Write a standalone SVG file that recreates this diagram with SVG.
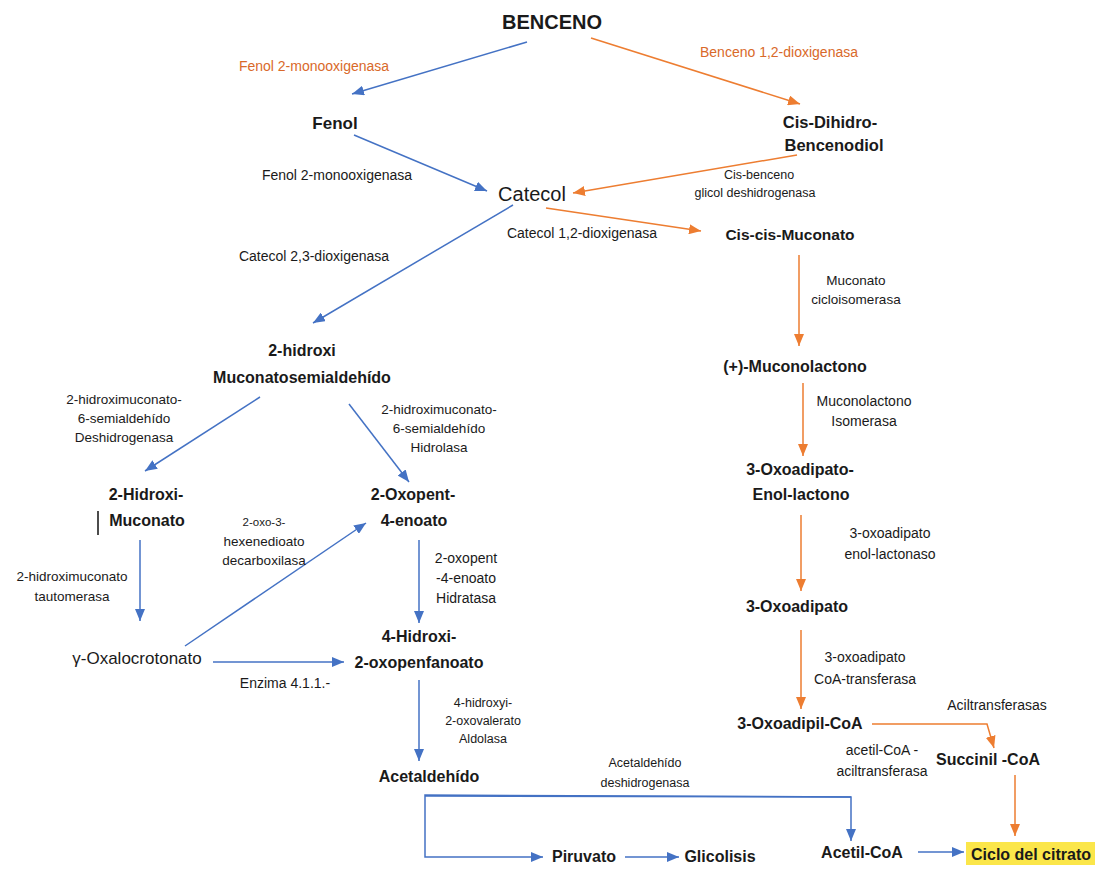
<svg xmlns="http://www.w3.org/2000/svg" width="1095" height="869" viewBox="0 0 1095 869">
<defs>
<marker id="ab" viewBox="0 0 12 10" refX="12" refY="5" markerWidth="12" markerHeight="10" markerUnits="userSpaceOnUse" orient="auto"><path d="M0,0 L12,5 L0,10 z" fill="#4472c4"/></marker>
<marker id="ao" viewBox="0 0 12 10" refX="12" refY="5" markerWidth="12" markerHeight="10" markerUnits="userSpaceOnUse" orient="auto"><path d="M0,0 L12,5 L0,10 z" fill="#ed7d31"/></marker>
</defs>
<style>
text{font-family:"Liberation Sans",Arial,sans-serif;text-anchor:middle;fill:#1a1a1a}
.n{font-size:16px;font-weight:bold}
.r{font-weight:normal}
.e{font-size:14px}
.s{font-size:13.5px}
.eo{font-size:14px;fill:#d9692a}
.b{stroke:#4472c4;stroke-width:1.5;fill:none;marker-end:url(#ab)}
.o{stroke:#ed7d31;stroke-width:1.5;fill:none;marker-end:url(#ao)}
</style>
<rect width="1095" height="869" fill="#ffffff"/>
<g id="connectors">
<line class="b" x1="527" y1="42" x2="352" y2="94"/>
<line class="o" x1="591" y1="38" x2="800" y2="104"/>
<line class="b" x1="354" y1="135" x2="487" y2="191"/>
<line class="o" x1="797" y1="155" x2="573" y2="193"/>
<line class="o" x1="546" y1="208" x2="701" y2="231"/>
<line class="b" x1="513" y1="205" x2="313" y2="323"/>
<line class="o" x1="799" y1="255" x2="799" y2="346"/>
<line class="o" x1="803" y1="383" x2="803" y2="456"/>
<line class="o" x1="801" y1="515" x2="801" y2="591"/>
<line class="o" x1="801" y1="630" x2="801" y2="709"/>
<path class="o" d="M872,724 L987,724 L994,748"/>
<line class="o" x1="1015" y1="775" x2="1015" y2="836"/>
<line class="b" x1="260" y1="397" x2="145" y2="471"/>
<line class="b" x1="349" y1="404" x2="409" y2="482"/>
<line class="b" x1="140" y1="540" x2="140" y2="621"/>
<line class="b" x1="185" y1="646" x2="366" y2="523"/>
<line class="b" x1="213" y1="662" x2="344" y2="662"/>
<line class="b" x1="419" y1="540" x2="419" y2="623"/>
<line class="b" x1="419" y1="680" x2="419" y2="761"/>
<path class="b" d="M851,797 L425,795 L425,857 L543,857"/>
<path class="b" d="M425,796 L851,797 L851,841"/>
<line class="b" x1="625" y1="857" x2="679" y2="857"/>
<line class="b" x1="918" y1="852" x2="964" y2="852"/>
<line x1="98" y1="511" x2="98" y2="535" stroke="#111" stroke-width="1.5"/>
</g>
<g id="BENCENO"><text class="n" x="552" y="29" style="font-size:20px">BENCENO</text></g>
<g id="Fenol"><text class="n" x="335" y="129" style="font-size:17px">Fenol</text></g>
<g id="CisDihidro"><text class="n" x="830" y="128" style="font-size:16.5px">Cis-Dihidro-</text><text class="n" x="834" y="151" style="font-size:16.5px">Bencenodiol</text></g>
<g id="Catecol"><text class="n r" x="532" y="201" style="font-size:20px">Catecol</text></g>
<g id="CisCisMuconato"><text class="n" x="790" y="240" style="font-size:15.5px">Cis-cis-Muconato</text></g>
<g id="HidroxiMuconatosemialdehido"><text class="n" x="302" y="356">2-hidroxi</text><text class="n" x="302" y="383">Muconatosemialdehído</text></g>
<g id="Muconolactono"><text class="n" x="795" y="372">(+)-Muconolactono</text></g>
<g id="OxoadipatoEnol"><text class="n" x="800" y="475">3-Oxoadipato-</text><text class="n" x="801" y="500">Enol-lactono</text></g>
<g id="HidroxiMuconato"><text class="n" x="146" y="500">2-Hidroxi-</text><text class="n" x="147" y="526">Muconato</text></g>
<g id="Oxopentenoato"><text class="n" x="413" y="500">2-Oxopent-</text><text class="n" x="414" y="526">4-enoato</text></g>
<g id="Oxoadipato"><text class="n" x="797" y="612">3-Oxoadipato</text></g>
<g id="Oxalocrotonato"><text class="n r" x="137" y="664" style="font-size:17px">γ-Oxalocrotonato</text></g>
<g id="HidroxiOxopenfanoato"><text class="n" x="419" y="642">4-Hidroxi-</text><text class="n" x="419" y="668">2-oxopenfanoato</text></g>
<g id="OxoadipilCoA"><text class="n" x="800" y="729">3-Oxoadipil-CoA</text></g>
<g id="SuccinilCoA"><text class="n" x="988" y="765">Succinil -CoA</text></g>
<g id="Acetaldehido"><text class="n" x="429" y="782">Acetaldehído</text></g>
<g id="Piruvato"><text class="n" x="584" y="862">Piruvato</text></g>
<g id="Glicolisis"><text class="n" x="720" y="862">Glicolisis</text></g>
<g id="AcetilCoA"><text class="n" x="862" y="858">Acetil-CoA</text></g>
<g id="CicloCitrato"><rect x="966" y="842" width="130" height="23" fill="#fbe64a"/><text class="n" x="1031" y="860">Ciclo del citrato</text></g>
<g id="labels">
<text class="eo" x="314" y="71">Fenol 2-monooxigenasa</text>
<text class="eo" x="779" y="57">Benceno 1,2-dioxigenasa</text>
<text class="e" x="337" y="180">Fenol 2-monooxigenasa</text>
<text class="s" x="759" y="179" style="font-size:12.5px">Cis-benceno</text>
<text class="s" x="755" y="197" style="font-size:12.5px">glicol deshidrogenasa</text>
<text class="e" x="582" y="238">Catecol 1,2-dioxigenasa</text>
<text class="e" x="314" y="261">Catecol 2,3-dioxigenasa</text>
<text class="s" x="856" y="285">Muconato</text>
<text class="s" x="856" y="304">cicloisomerasa</text>
<text class="s" x="124" y="404">2-hidroximuconato-</text>
<text class="s" x="124" y="423">6-semialdehído</text>
<text class="s" x="124" y="442">Deshidrogenasa</text>
<text class="s" x="439" y="414">2-hidroximuconato-</text>
<text class="s" x="439" y="433">6-semialdehído</text>
<text class="s" x="439" y="452">Hidrolasa</text>
<text class="e" x="864" y="406">Muconolactono</text>
<text class="e" x="864" y="426">Isomerasa</text>
<text class="s" x="264" y="526" style="font-size:11.5px">2-oxo-3-</text>
<text class="s" x="264" y="546">hexenedioato</text>
<text class="s" x="264" y="565">decarboxilasa</text>
<text class="e" x="466" y="563">2-oxopent</text>
<text class="e" x="466" y="583">-4-enoato</text>
<text class="e" x="466" y="603">Hidratasa</text>
<text class="s" x="72" y="581">2-hidroximuconato</text>
<text class="s" x="72" y="601">tautomerasa</text>
<text class="e" x="890" y="538">3-oxoadipato</text>
<text class="e" x="890" y="559">enol-lactonaso</text>
<text class="e" x="285" y="688">Enzima 4.1.1.-</text>
<text class="e" x="865" y="662">3-oxoadipato</text>
<text class="e" x="865" y="684">CoA-transferasa</text>
<text class="s" x="483" y="707" style="font-size:12.5px">4-hidroxyi-</text>
<text class="s" x="483" y="725" style="font-size:12.5px">2-oxovalerato</text>
<text class="s" x="483" y="743" style="font-size:12.5px">Aldolasa</text>
<text class="e" x="997" y="710">Aciltransferasas</text>
<text class="e" x="882" y="755">acetil-CoA -</text>
<text class="e" x="882" y="776">aciltransferasa</text>
<text class="s" x="645" y="767" style="font-size:12.5px">Acetaldehído</text>
<text class="s" x="645" y="787" style="font-size:12.5px">deshidrogenasa</text>
</g>
</svg>
